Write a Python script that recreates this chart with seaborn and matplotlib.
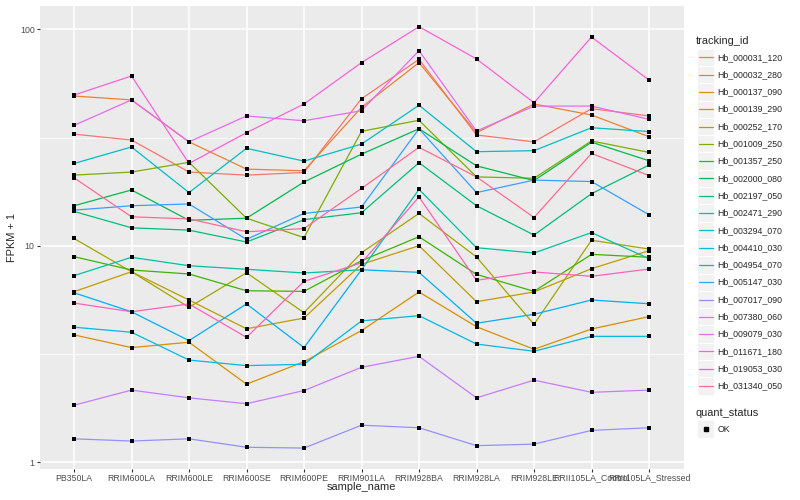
import pandas as pd
import seaborn as sns
import matplotlib
matplotlib.use('Agg')
import matplotlib.pyplot as plt
from matplotlib.lines import Line2D
from matplotlib.patches import Rectangle
from matplotlib.ticker import FixedLocator, NullFormatter

samples = ['PB350LA', 'RRIM600LA', 'RRIM600LE', 'RRIM600SE', 'RRIM600PE',
           'RRIM901LA', 'RRIM928BA', 'RRIM928LA', 'RRIM928LE',
           'RRII105LA_Control', 'RRII105LA_Stressed']

# FPKM + 1 values
hb_000031_120 = [32.8, 30.8, 21.9, 21.2, 21.8, 47.8, 72.7, 32.5, 30.2, 43.0, 39.8]
hb_000032_280 = [49.2, 47.2, 30.2, 22.6, 22.2, 43.6, 70.2, 33.3, 45.2, 40.2, 31.9]
hb_000137_090 = [3.87, 3.38, 3.58, 2.29, 2.91, 4.05, 6.11, 4.22, 3.32, 4.12, 4.70]
hb_000139_290 = [6.13, 7.58, 5.61, 4.13, 4.63, 8.20, 10.0, 5.51, 6.11, 7.83, 9.48]
hb_000252_170 = [10.8, 7.58, 5.19, 7.50, 4.90, 9.28, 14.1, 8.87, 4.33, 10.6, 9.65]
hb_001009_250 = [21.2, 21.9, 24.3, 13.4, 10.9, 33.8, 38.0, 20.8, 20.5, 30.5, 27.0]
hb_001357_250 = [8.90, 7.72, 7.40, 6.19, 6.15, 8.52, 11.0, 7.37, 6.15, 9.12, 8.84]
hb_002000_080 = [15.3, 18.1, 13.1, 13.4, 19.7, 26.5, 34.7, 23.4, 20.0, 30.1, 24.7]
hb_002197_050 = [14.4, 12.1, 11.8, 10.4, 13.2, 14.2, 24.2, 15.3, 11.2, 17.4, 23.6]
hb_002471_290 = [7.27, 8.84, 8.08, 7.78, 7.48, 7.74, 18.2, 9.79, 9.25, 11.5, 8.71]
hb_003294_070 = [24.0, 28.6, 17.6, 28.2, 24.6, 29.5, 44.6, 27.2, 27.5, 35.1, 33.7]
hb_004410_030 = [4.20, 3.98, 2.96, 2.79, 2.83, 4.49, 4.75, 3.51, 3.25, 3.81, 3.81]
hb_004954_070 = [6.06, 4.95, 3.64, 5.38, 3.38, 7.74, 7.53, 4.38, 4.82, 5.61, 5.39]
hb_005147_030 = [14.6, 15.3, 15.6, 10.7, 14.1, 15.1, 34.7, 17.6, 20.1, 19.8, 13.9]
hb_007017_090 = [1.28, 1.25, 1.28, 1.17, 1.16, 1.48, 1.44, 1.19, 1.21, 1.40, 1.44]
hb_007380_060 = [1.83, 2.15, 1.98, 1.86, 2.14, 2.74, 3.08, 1.98, 2.39, 2.10, 2.15]
hb_009079_030 = [36.0, 47.2, 30.2, 39.8, 37.8, 42.1, 79.7, 33.9, 44.2, 44.2, 38.4]
hb_011671_180 = [49.7, 60.9, 24.0, 33.3, 45.2, 70.2, 102.9, 73.0, 45.8, 92.2, 58.3]
hb_019053_030 = [5.43, 4.95, 5.38, 3.77, 6.84, 8.34, 16.8, 6.92, 7.56, 7.22, 7.80]
hb_031340_050 = [20.6, 13.6, 13.3, 11.6, 12.0, 18.4, 28.5, 20.8, 13.5, 26.7, 21.1]

tracking_ids = ['Hb_000031_120', 'Hb_000032_280', 'Hb_000137_090', 'Hb_000139_290',
                'Hb_000252_170', 'Hb_001009_250', 'Hb_001357_250', 'Hb_002000_080',
                'Hb_002197_050', 'Hb_002471_290', 'Hb_003294_070', 'Hb_004410_030',
                'Hb_004954_070', 'Hb_005147_030', 'Hb_007017_090', 'Hb_007380_060',
                'Hb_009079_030', 'Hb_011671_180', 'Hb_019053_030', 'Hb_031340_050']
series = [hb_000031_120, hb_000032_280, hb_000137_090, hb_000139_290, hb_000252_170,
          hb_001009_250, hb_001357_250, hb_002000_080, hb_002197_050, hb_002471_290,
          hb_003294_070, hb_004410_030, hb_004954_070, hb_005147_030, hb_007017_090,
          hb_007380_060, hb_009079_030, hb_011671_180, hb_019053_030, hb_031340_050]

# ggplot default hue palette for 20 levels
colors = ['#F8766D', '#EA8331', '#D89000', '#C09B00', '#A3A500', '#7CAE00', '#39B600',
          '#00BB4E', '#00BF7D', '#00C1A3', '#00BFC4', '#00BAE0', '#00B0F6', '#35A2FF',
          '#9590FF', '#C77CFF', '#E76BF3', '#FA62DB', '#FF62BC', '#FF6C91']

rows = []
for tid, vals in zip(tracking_ids, series):
    for s, v in zip(samples, vals):
        rows.append({'tracking_id': tid, 'sample_name': s, 'fpkm': v, 'quant_status': 'OK'})
df = pd.DataFrame(rows)

sns.set_theme(style="darkgrid", rc={
    'axes.facecolor': '#EBEBEB',
    'figure.facecolor': 'white',
    'grid.color': 'white',
})
plt.rcParams['font.family'] = ['Liberation Sans', 'DejaVu Sans']

W, H = 800, 500
fig = plt.figure(figsize=(8, 5), dpi=100)
left, right, top, bottom = 39.5, 683.5, 5.6, 468.8
ax = fig.add_axes([left / W, 1 - bottom / H, (right - left) / W, (bottom - top) / H])

sns.lineplot(data=df, x='sample_name', y='fpkm', hue='tracking_id', palette=colors,
             estimator=None, sort=False, linewidth=0.9, legend=False, ax=ax)
sns.scatterplot(data=df, x='sample_name', y='fpkm', color='black', marker='s', s=9,
                linewidth=0, legend=False, ax=ax, zorder=3)

ax.set_yscale('log')
ax.set_xlim(-0.6, 10.6)
ax.set_ylim(10 ** -0.0314, 10 ** 2.110)
ax.set_yticks([1, 10, 100])
ax.set_yticklabels(['1', '10', '100'])
ax.yaxis.set_minor_locator(FixedLocator([10 ** 0.5, 10 ** 1.5]))
ax.yaxis.set_minor_formatter(NullFormatter())
ax.grid(which='major', color='white', linewidth=1.1)
ax.grid(which='minor', color='white', linewidth=0.55)
ax.tick_params(axis='both', which='major', length=2, width=0.8, color='#333333',
               labelsize=6.3, labelcolor='#4D4D4D', pad=1.5, bottom=True, left=True)
ax.tick_params(axis='y', which='minor', length=0)
for sp in ax.spines.values():
    sp.set_visible(False)
ax.set_xlabel('')
ax.set_ylabel('')

fig.text(361.5 / W, 1 - 487 / H, 'sample_name', ha='center', va='center', fontsize=7.9)
fig.text(12 / W, 1 - 237 / H, 'FPKM + 1', ha='center', va='center', fontsize=7.9, rotation=90)


def fx(px):
    return px / W


def fy(py):
    return 1 - py / H


# legend: tracking_id
fig.text(fx(696), fy(40.7), 'tracking_id', ha='left', va='center', fontsize=7.9)
step = 17.3
for i, (tid, c) in enumerate(zip(tracking_ids, colors)):
    yc = 57.3 + step * i
    fig.add_artist(Rectangle((fx(697), fy(yc + step / 2)), 17 / W, step / H,
                             facecolor='#F2F2F2', edgecolor='white', linewidth=0.7,
                             transform=fig.transFigure))
    fig.add_artist(Line2D([fx(698.5), fx(712.5)], [fy(yc), fy(yc)], color=c,
                          linewidth=0.9, transform=fig.transFigure))
    fig.text(fx(717.5), fy(yc), tid, ha='left', va='center', fontsize=6.3)

# legend: quant_status
fig.text(fx(696), fy(412.7), 'quant_status', ha='left', va='center', fontsize=7.9)
yc = 429
fig.add_artist(Rectangle((fx(697), fy(yc + step / 2)), 17 / W, step / H,
                         facecolor='#F2F2F2', edgecolor='white', linewidth=0.7,
                         transform=fig.transFigure))
fig.add_artist(Line2D([fx(705.5)], [fy(yc)], marker='s', markersize=2.9, color='black',
                      linestyle='none', transform=fig.transFigure))
fig.text(fx(717.5), fy(yc), 'OK', ha='left', va='center', fontsize=6.3)

fig.savefig('out.png', dpi=100)
